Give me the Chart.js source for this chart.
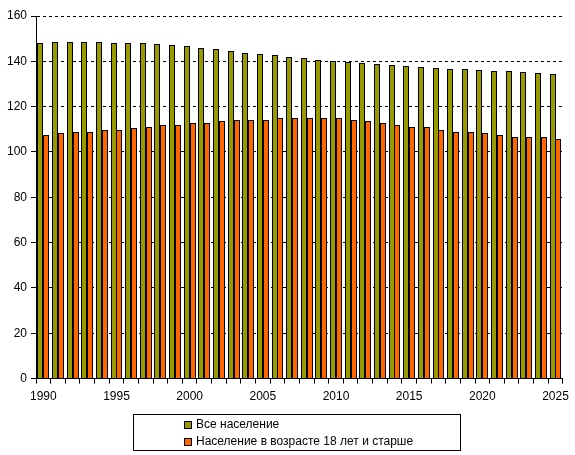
<!DOCTYPE html>
<html>
<head>
<meta charset="utf-8">
<script src="https://cdn.jsdelivr.net/npm/chart.js@4"></script>
<style>
  body { margin: 0; background: #fff; }
  #wrap { position: relative; width: 575px; height: 455px; }
  #legend {
    position: absolute; left: 133px; top: 414px; width: 326px; height: 35px;
    border: 1px solid #000; font-family: "Liberation Sans", Arial, sans-serif;
    font-size: 12px; color: #000; box-sizing: content-box;
  }
  .item { position: absolute; left: 50px; height: 14px; line-height: 14px; white-space: nowrap; }
  .box { display: inline-block; width: 6px; height: 6px; border: 1px solid #000; margin-right: 4px; vertical-align: -1px; }
</style>
</head>
<body>
<div id="wrap">
  <canvas id="c" width="575" height="455"></canvas>
  <div id="legend"></div>
</div>
<script>
const years = [];
for (let y = 1990; y <= 2025; y++) years.push(String(y));

const seriesNames = ['Все население', 'Население в возрасте 18 лет и старше'];
const seriesColors = ['#999900', '#ff6600'];

const allPop = [148.0, 148.4, 148.5, 148.5, 148.4, 148.3, 148.0, 147.9, 147.5, 147.1, 146.6, 145.7,
  145.3, 144.4, 143.5, 143.1, 142.6, 141.7, 141.3, 140.4, 140.0, 139.5, 139.1, 138.7,
  138.2, 137.8, 137.3, 136.9, 136.4, 136.4, 136.0, 135.6, 135.6, 135.1, 134.7, 134.2];

const adults = [107.7, 108.2, 108.6, 109.0, 109.5, 109.9, 110.4, 110.8, 111.7, 112.1, 112.6, 113.0,
  113.5, 113.9, 113.9, 114.3, 114.8, 114.8, 114.8, 114.8, 114.8, 114.3, 113.5, 113.0,
  112.1, 111.2, 110.8, 109.9, 109.0, 108.6, 108.2, 107.3, 106.8, 106.8, 106.4, 105.9];

const yTicks = [0, 20, 40, 60, 80, 100, 120, 140, 160];

const font = { family: '"Liberation Sans", Arial, sans-serif', size: 12 };

// snap bars to whole pixels so the black outlines stay crisp
const snapBars = {
  id: 'snapBars',
  afterDatasetsUpdate(chart) {
    chart.data.datasets.forEach((ds, i) => {
      chart.getDatasetMeta(i).data.forEach(bar => {
        bar.x = Math.round(bar.x);
        bar.width = 6;
        bar.y = Math.round(bar.y);
        bar.base = Math.round(bar.base);
      });
    });
  }
};

const chart = new Chart(document.getElementById('c'), {
  type: 'bar',
  data: {
    labels: years,
    datasets: [
      { label: seriesNames[0], data: allPop, backgroundColor: seriesColors[0], borderColor: '#000', borderWidth: 1 },
      { label: seriesNames[1], data: adults, backgroundColor: seriesColors[1], borderColor: '#000', borderWidth: 1 }
    ]
  },
  plugins: [snapBars],
  options: {
    responsive: false,
    animation: false,
    layout: { padding: { top: 16, right: 8, left: 3, bottom: 45 } },
    plugins: { legend: { display: false }, tooltip: { enabled: false } },
    datasets: { bar: { categoryPercentage: 0.8, barPercentage: 1.0 } },
    scales: {
      x: {
        offset: true,
        grid: { offset: true, drawOnChartArea: false, drawTicks: true, tickLength: 5, color: '#000' },
        border: { color: '#000', width: 1 },
        ticks: {
          autoSkip: false, maxRotation: 0, minRotation: 0, color: '#000', font: font, padding: 6,
          callback: function (v, i) { const y = years[i]; return Number(y) % 5 === 0 ? y : ''; }
        }
      },
      y: {
        min: 0, max: 160,
        afterBuildTicks: function (axis) { axis.ticks = yTicks.map(v => ({ value: v })); },
        grid: { color: '#000', tickBorderDash: [], tickLength: 5, drawTicks: true },
        border: { color: '#000', width: 1, dash: [3, 3] },
        ticks: { color: '#000', font: font, padding: 4 }
      }
    }
  }
});

// legend in a box, like the original
const legend = document.getElementById('legend');
seriesNames.forEach((name, i) => {
  const div = document.createElement('div');
  div.className = 'item';
  div.style.top = (2 + i * 17) + 'px';
  div.innerHTML = '<span class="box" style="background:' + seriesColors[i] + '"></span>' + name;
  legend.appendChild(div);
});
</script>
</body>
</html>
